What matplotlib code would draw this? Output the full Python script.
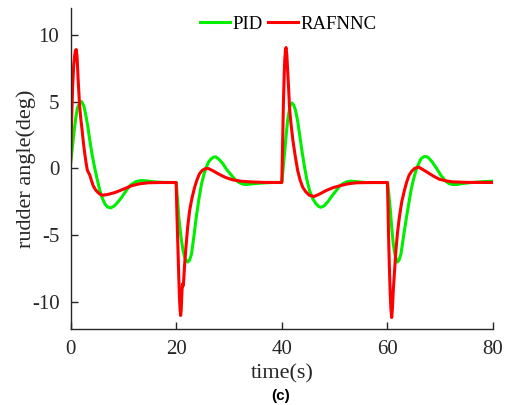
import matplotlib.pyplot as plt

# PID response (green)
t_pid = [0, 0.35, 0.7, 1.0, 1.3, 1.7, 2.1, 2.5, 2.85, 3.25, 3.65, 4.1, 4.6, 5.1, 5.55, 6.0, 6.5, 7.0,
         7.6, 8.3, 9.0, 9.7, 10.3, 10.9, 11.5, 12.4, 13.4, 14.5, 15.9, 17.5, 20.0,
         20.25, 20.5, 20.9, 21.3, 21.7, 22.2, 22.55, 22.9, 23.35, 23.8, 24.3, 24.8, 25.25, 25.7, 26.15,
         26.65, 27.1, 27.5, 28.2, 28.85, 29.6, 30.45, 31.2, 32.0, 32.6, 33.2, 34.5, 35.8, 38.0, 40.0,
         40.25, 40.5, 40.8, 41.1, 41.55, 41.9, 42.25, 42.6, 43.0, 43.35, 43.8, 44.3, 44.75, 45.25, 45.9,
         46.5, 47.0, 47.4, 48.0, 48.7, 49.5, 50.3, 50.9, 51.5, 52.3, 53.1, 54.5, 55.95, 60.0,
         60.25, 60.55, 60.8, 61.1, 61.5, 61.9, 62.2, 62.55, 63.0, 63.5, 64.0, 64.45, 64.9, 65.4, 65.9,
         66.35, 66.9, 67.4, 67.9, 68.5, 69.3, 70.1, 70.9, 71.7, 72.4, 73.1, 74.2, 75.5, 77.5, 80.0]
v_pid = [0.3, 1.6, 2.85, 3.8, 4.5, 4.9, 5.0, 4.7, 4.1, 3.2, 2.1, 1.0, 0.0, -0.9, -1.65, -2.2, -2.65, -2.88,
         -2.95, -2.8, -2.5, -2.15, -1.8, -1.45, -1.2, -0.98, -0.9, -0.93, -1.0, -1.04, -1.05,
         -2.3, -3.65, -5.1, -6.15, -6.75, -7.0, -6.85, -6.4, -5.1, -3.65, -2.3, -1.15, -0.45, 0.1, 0.5,
         0.73, 0.85, 0.87, 0.65, 0.35, -0.1, -0.5, -0.85, -1.07, -1.17, -1.2, -1.15, -1.1, -1.05, -1.05,
         0.0, 1.1, 2.4, 3.6, 4.7, 4.9, 4.75, 4.35, 3.55, 2.6, 1.35, 0.1, -0.85, -1.65, -2.3,
         -2.65, -2.85, -2.9, -2.8, -2.5, -2.05, -1.65, -1.35, -1.15, -1.0, -0.95, -1.0, -1.05, -1.05,
         -1.9, -3.15, -4.4, -5.65, -6.6, -7.0, -6.85, -6.4, -5.2, -3.9, -2.7, -1.65, -0.85, -0.15, 0.35,
         0.73, 0.88, 0.9, 0.75, 0.47, 0.0, -0.5, -0.9, -1.15, -1.2, -1.2, -1.13, -1.07, -1.0, -0.95]

# RAFNNC response (red)
t_raf = [0, 0.2, 0.4, 0.6, 0.8, 0.95, 1.1, 1.25, 1.45, 1.7, 1.95, 2.2, 2.45, 2.7, 2.95, 3.2, 3.4, 3.65,
         4.0, 4.3, 4.75, 5.2, 5.6, 6.1, 7.0, 8.4, 10.0, 11.5, 13.0, 14.7, 17.0, 20.0,
         20.15, 20.35, 20.5, 20.65, 20.75, 20.85, 20.95, 21.1, 21.2, 21.3, 21.4, 21.6, 21.9, 22.2, 22.55,
         23.0, 23.5, 23.9, 24.4, 25.0, 25.5, 26.1, 27.0, 28.2, 29.4, 30.7, 32.2, 33.9, 36.5, 40.0,
         40.15, 40.3, 40.45, 40.55, 40.7, 40.8, 40.95, 41.1, 41.3, 41.45, 41.75, 42.1, 42.55, 43.0, 43.45,
         43.95, 44.55, 45.2, 46.1, 47.2, 48.4, 49.6, 50.9, 52.5, 54.1, 57.0, 60.0,
         60.1, 60.2, 60.35, 60.5, 60.65, 60.8, 60.95, 61.1, 61.35, 61.6, 61.9, 62.25, 62.7, 63.2, 63.65,
         64.1, 64.6, 65.2, 65.9, 66.7, 67.6, 68.7, 69.8, 71.0, 72.3, 75.0, 80.0]
v_raf = [0.37, 3.5, 6.1, 7.7, 8.5, 8.85, 8.9, 8.3, 6.6, 4.85, 3.7, 2.85, 1.9, 1.1, 0.4, -0.15, -0.3, -0.5,
         -0.95, -1.3, -1.6, -1.8, -1.93, -2.0, -1.95, -1.8, -1.55, -1.3, -1.15, -1.07, -1.05, -1.05,
         -3.5, -6.15, -8.2, -9.9, -10.6, -11.0, -10.6, -9.15, -8.65, -8.8, -8.5, -7.2, -5.65, -4.3, -3.15,
         -2.2, -1.4, -0.9, -0.4, -0.12, -0.02, 0.0, -0.18, -0.45, -0.68, -0.85, -0.95, -1.0, -1.04, -1.05,
         1.8, 4.85, 7.0, 8.1, 8.9, 9.05, 8.5, 7.35, 5.9, 4.6, 3.3, 2.1, 0.9, -0.15, -0.85,
         -1.4, -1.75, -2.0, -2.1, -1.9, -1.65, -1.45, -1.3, -1.15, -1.07, -1.05, -1.05,
         -2.8, -4.9, -7.2, -9.15, -10.5, -11.15, -10.4, -9.15, -7.6, -6.15, -4.8, -3.65, -2.5, -1.65, -1.0,
         -0.5, -0.2, 0.02, 0.1, -0.08, -0.3, -0.57, -0.8, -0.92, -1.0, -1.04, -1.05]

serif = ['Liberation Serif', 'DejaVu Serif']
dark = '#262626'

fig = plt.figure(figsize=(5.11, 4.05), dpi=100)
ax = fig.add_axes([0.138, 0.188, 0.827, 0.792])

ax.plot(t_pid, v_pid, color='#00ee00', lw=2.2, label='PID')
ax.plot(t_raf, v_raf, color='#ff0000', lw=2.2, label='RAFNNC')

ax.set_xlim(0, 80)
ax.set_ylim(-12, 12)
ax.set_xticks([0, 20, 40, 60, 80])
ax.set_yticks([-10, -5, 0, 5, 10])
ax.set_yticklabels(['-10', '-5', '0', '5', '10'])

for s in ['top', 'right']:
    ax.spines[s].set_visible(False)
for s in ['left', 'bottom']:
    ax.spines[s].set_color(dark)
    ax.spines[s].set_linewidth(1.0)
ax.tick_params(direction='in', length=5, width=1.0, colors=dark, labelsize=15, pad=8)
for lab in ax.get_xticklabels() + ax.get_yticklabels():
    lab.set_family(serif)

ax.set_xlabel('time(s)', family=serif, fontsize=16, color=dark, labelpad=4)
ax.set_ylabel('rudder angle(deg)', family=serif, fontsize=16, color=dark, labelpad=-3)

ax.legend(loc='upper center', bbox_to_anchor=(0.515, 1.0), ncol=2, frameon=False,
          prop={'family': serif, 'size': 13.5}, handlelength=1.6, handletextpad=0.15,
          columnspacing=0.25, borderaxespad=0.0)

fig.text(0.55, 0.004, '(c)', family=['Liberation Sans', 'DejaVu Sans'], fontsize=11,
         fontweight='bold', ha='center', va='bottom')

fig.savefig('out.png', dpi=100)
